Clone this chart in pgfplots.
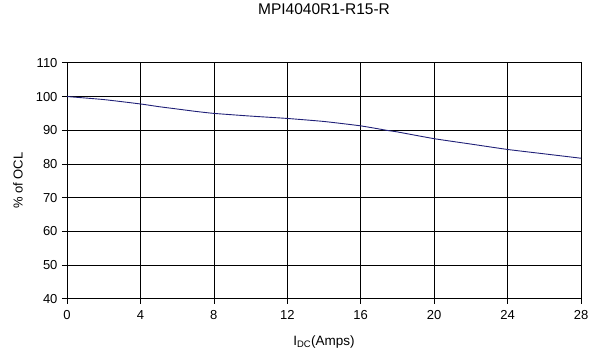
\documentclass[border=0pt]{standalone}
\usepackage{pgfplots}
\pgfplotsset{compat=1.18}
\usepackage{fontspec}
\setmainfont{Liberation Sans}
\definecolor{navy}{RGB}{32,32,120}
\begin{document}
\begin{tikzpicture}
\begin{axis}[
  scale only axis, width=514pt, height=236pt,
  at={(0,0)}, anchor=south west,
  xmin=0, xmax=28, ymin=40, ymax=110,
  xtick={0,4,...,28}, ytick={40,50,...,110},
  grid=major, major grid style={black, line width=0.7pt},
  axis line style={black, line width=0.7pt},
  tick align=outside, major tick length=5pt,
  tick style={black, line width=0.7pt},
  xtick pos=bottom, ytick pos=left,
  /pgf/number format/assume math mode=true,
  ticklabel style={font=\fontsize{13}{15}\selectfont},
  yticklabel style={xshift=-1pt},
  xticklabel style={yshift=-3pt},
  title={MPI4040R1-R15-R},
  title style={font=\fontsize{15.5}{18}\selectfont, at={(0.5,1)}, anchor=center, yshift=48pt},
  xlabel={I\textsubscript{DC}(Amps)},
  xlabel style={font=\fontsize{13.5}{15}\selectfont, at={(0.5,0)}, anchor=center, yshift=-43pt},
]
\addplot[navy, line width=0.9pt, smooth, tension=0.3] coordinates {
(0,100) (2,99.1) (4,97.8) (5,97.0) (6,96.3) (7,95.6) (8,95.0) (10,94.2) (12,93.5) (14,92.6) (16,91.3) (17.5,89.9) (18,89.5) (20,87.5) (22,85.9) (24,84.3) (26,83.0) (28,81.7)
};
\end{axis}
\node[rotate=90, anchor=center, font=\fontsize{13}{15}\selectfont] at (-49pt,118pt) {\% of OCL};
\path[use as bounding box] (-67pt,-60pt) rectangle (541pt,298pt);
\end{tikzpicture}
\end{document}
